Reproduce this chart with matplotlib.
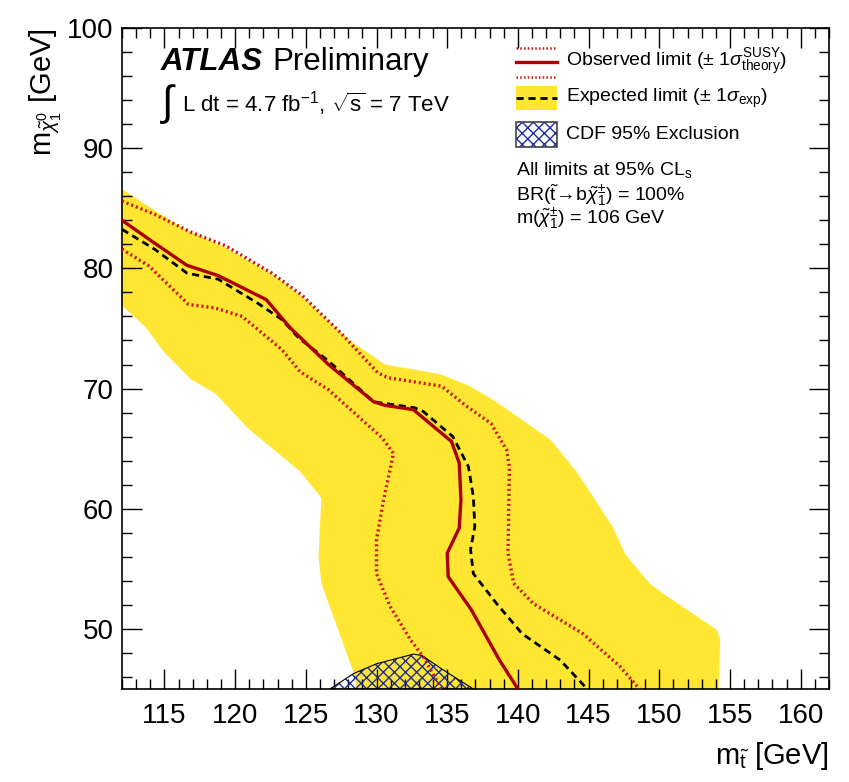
import matplotlib
matplotlib.use('Agg')
import matplotlib.pyplot as plt
from matplotlib.lines import Line2D
from matplotlib.patches import Rectangle

plt.rcParams['font.family'] = ['Liberation Sans', 'DejaVu Sans']
plt.rcParams['mathtext.fontset'] = 'custom'
plt.rcParams['mathtext.rm'] = 'Liberation Sans'
plt.rcParams['mathtext.it'] = 'Liberation Sans:italic'
plt.rcParams['mathtext.bf'] = 'Liberation Sans:bold'
plt.rcParams['hatch.linewidth'] = 1.0

# observed limit (solid red)
obs_x = [112.0, 114.3, 116.6, 118.8, 122.2, 123.9, 126.6, 129.8, 130.6, 132.6,
         135.3, 135.85, 135.97, 135.85, 135.0, 135.07, 136.7, 138.7, 140.0]
obs_y = [84.0, 82.1, 80.25, 79.4, 77.4, 75.05, 72.0, 68.9, 68.6, 68.25,
         65.6, 63.8, 60.75, 58.4, 56.3, 54.35, 51.6, 47.4, 45.0]

# observed +1 sigma theory (upper dotted)
obs_up_x = [112.0, 114.3, 116.9, 119.3, 122.6, 124.7, 127.5, 130.1, 130.8, 134.6,
            136.4, 138.1, 139.2, 139.4, 139.3, 139.7, 141.1, 144.6, 147.2, 148.6]
obs_up_y = [85.6, 84.5, 83.0, 81.9, 79.6, 77.8, 74.6, 71.3, 70.9, 70.2,
            68.5, 67.1, 64.9, 63.5, 56.3, 53.8, 52.1, 49.6, 46.9, 45.0]

# observed -1 sigma theory (lower dotted)
obs_dn_x = [112.0, 113.9, 116.7, 118.6, 120.5, 123.3, 124.6, 126.6, 130.4, 131.2,
            130.5, 130.0, 130.0, 130.95, 132.4, 133.3, 134.6]
obs_dn_y = [81.6, 80.2, 77.0, 76.7, 76.0, 73.25, 71.4, 69.9, 65.9, 64.6,
            60.75, 57.4, 54.6, 51.9, 49.1, 47.7, 45.0]

# expected limit (dashed black)
exp_x = [112.0, 114.3, 116.6, 118.8, 121.6, 123.3, 124.5, 126.6, 129.8, 132.7,
         133.3, 135.4, 136.5, 136.85, 136.95, 136.65, 136.85, 138.5, 140.3, 143.0, 144.9]
exp_y = [83.25, 81.6, 79.6, 79.1, 77.1, 75.75, 74.2, 72.3, 68.9, 68.4,
         68.1, 66.0, 63.5, 61.0, 58.5, 56.6, 54.6, 52.1, 49.6, 47.4, 45.0]

# +-1 sigma expected band
band_up_x = [112.0, 114.6, 116.7, 119.05, 122.8, 124.7, 128.0, 130.6, 134.5, 136.6,
             138.4, 142.3, 144.2, 146.7, 147.6, 149.3, 150.2, 154.1, 154.3, 154.2]
band_up_y = [86.6, 84.6, 83.1, 81.9, 79.4, 77.7, 74.1, 72.0, 71.2, 70.2,
             68.95, 65.75, 63.0, 58.5, 56.2, 53.8, 53.0, 49.9, 49.1, 45.0]
band_dn_x = [112.0, 113.6, 115.0, 116.9, 118.6, 120.9, 124.6, 126.1, 125.9, 126.1,
             128.4, 128.6]
band_dn_y = [76.9, 75.2, 73.0, 70.75, 69.6, 66.7, 63.1, 60.9, 56.0, 53.8,
             46.3, 45.0]

# CDF 95% exclusion
cdf_x = [126.7, 128.4, 130.0, 132.6, 133.2, 134.7, 136.85]
cdf_y = [45.0, 46.3, 47.1, 47.9, 47.8, 46.6, 45.0]

yellow = '#ffe633'
dark_red = '#aa0000'
dot_red = '#cc1111'
hatch_blue = '#1e2b9a'
dotted = (0, (0.6, 0.9))
dashed = (0, (2.6, 1.7))

fig = plt.figure(figsize=(8.49, 7.82), dpi=100)
ax = fig.add_axes([0.1437, 0.1189, 0.8327, 0.8453])

ax.fill(band_up_x + band_dn_x[::-1], band_up_y + band_dn_y[::-1],
        color=yellow, lw=0, zorder=1)
ax.fill(cdf_x, cdf_y, facecolor='none', edgecolor=hatch_blue, hatch='xxx',
        lw=0, zorder=2)
ax.fill(cdf_x, cdf_y, facecolor='none', edgecolor='black', lw=0.8, zorder=2)

ax.plot(exp_x, exp_y, color='black', lw=2.0, ls=dashed, zorder=3)
ax.plot(obs_up_x, obs_up_y, color=dot_red, lw=2.4, ls=dotted, zorder=4)
ax.plot(obs_dn_x, obs_dn_y, color=dot_red, lw=2.4, ls=dotted, zorder=4)
ax.plot(obs_x, obs_y, color=dark_red, lw=2.4, zorder=5)

ax.set_xlim(112, 162)
ax.set_ylim(45, 100)
ax.set_xticks(range(115, 161, 5))
ax.set_xticks(range(112, 163), minor=True)
ax.set_yticks(range(50, 101, 10))
ax.set_yticks(range(46, 101, 2), minor=True)
ax.tick_params(which='both', direction='in', top=True, right=True, width=1.0,
               labelsize=20)
ax.tick_params(which='major', length=14.5)
ax.tick_params(which='minor', length=7.5)
ax.tick_params(axis='x', pad=10)
ax.tick_params(axis='y', pad=6)
for sp in ax.spines.values():
    sp.set_linewidth(1.2)

ax.set_xlabel(r'm$_{\tilde{\mathrm{t}}}$ [GeV]', fontsize=21, loc='right', labelpad=8)
ax.set_ylabel(r'm$_{\tilde{\chi}^{0}_{1}}$ [GeV]', fontsize=21, loc='top', labelpad=2)

# ATLAS label
ax.text(0.055, 0.972, 'ATLAS', transform=ax.transAxes, fontsize=22.5,
        fontweight='bold', fontstyle='italic', va='top')
ax.text(0.212, 0.972, 'Preliminary', transform=ax.transAxes, fontsize=22.5, va='top')
ax.text(0.054, 0.885, r'$\int$', transform=ax.transAxes, fontsize=30, va='center')
ax.text(0.085, 0.885, r'L dt = 4.7 fb$^{-1}$, $\sqrt{\mathrm{s}}$ = 7 TeV',
        transform=ax.transAxes, fontsize=16, va='center')

# legend drawn by hand, ROOT style
def fx(px):
    return (px - 122) / 707.0


def fy(py):
    return (689 - py) / 661.0


tr = ax.transAxes
ax.add_line(Line2D([fx(516), fx(557)], [fy(48), fy(48)], transform=tr,
                   color=dot_red, lw=1.8, ls=dotted))
ax.add_line(Line2D([fx(516), fx(557)], [fy(62.5), fy(62.5)], transform=tr,
                   color=dark_red, lw=2.4))
ax.add_line(Line2D([fx(516), fx(557)], [fy(77), fy(77)], transform=tr,
                   color=dot_red, lw=1.8, ls=dotted))
ax.add_patch(Rectangle((fx(516), fy(110.5)), fx(557) - fx(516), fy(86.5) - fy(110.5),
                       transform=tr, facecolor=yellow, lw=0))
ax.add_line(Line2D([fx(516), fx(557)], [fy(98.5), fy(98.5)], transform=tr,
                   color='black', lw=2.0, ls=dashed))
ax.add_patch(Rectangle((fx(516), fy(147)), fx(557) - fx(516), fy(122) - fy(147),
                       transform=tr, facecolor='white', edgecolor=hatch_blue,
                       hatch='xxx', lw=0))
ax.add_patch(Rectangle((fx(516), fy(147)), fx(557) - fx(516), fy(122) - fy(147),
                       transform=tr, facecolor='none', edgecolor='#444444', lw=1.2))

leg_fs = 14
ax.text(fx(566), fy(62), r'Observed limit ($\pm$ 1$\sigma^{\mathrm{SUSY}}_{\mathrm{theory}}$)',
        transform=tr, fontsize=leg_fs, va='center')
ax.text(fx(566), fy(98), r'Expected limit ($\pm$ 1$\sigma_{\mathrm{exp}}$)',
        transform=tr, fontsize=leg_fs, va='center')
ax.text(fx(566), fy(135), 'CDF 95% Exclusion', transform=tr, fontsize=leg_fs, va='center')
ax.text(fx(516), fy(170), r'All limits at 95% CL$_{\mathrm{s}}$', transform=tr,
        fontsize=leg_fs, va='center')
ax.text(fx(516), fy(195), r'BR($\tilde{\mathrm{t}}\!\rightarrow\!\mathrm{b}\tilde{\chi}^{\pm}_{1}$) = 100%',
        transform=tr, fontsize=leg_fs, va='center')
ax.text(fx(516), fy(219), r'm($\tilde{\chi}^{\pm}_{1}$) = 106 GeV', transform=tr,
        fontsize=leg_fs, va='center')

fig.savefig('out.png', dpi=100)
